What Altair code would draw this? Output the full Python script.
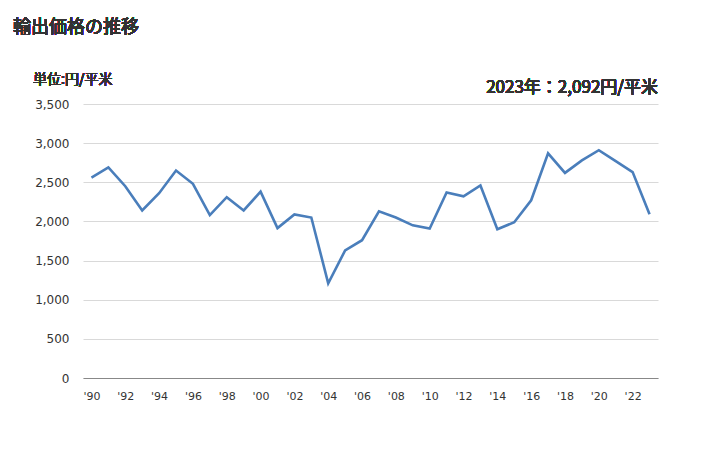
import altair as alt
import pandas as pd

years = list(range(1990, 2024))
values = [2560, 2690, 2450, 2140, 2360, 2650, 2480, 2080, 2310, 2140,
          2380, 1915, 2090, 2050, 1210, 1630, 1760, 2130, 2050, 1950,
          1910, 2370, 2320, 2460, 1900, 1990, 2270, 2870, 2620, 2780,
          2910, 2770, 2630, 2092]
y_ticks = [0, 500, 1000, 1500, 2000, 2500, 3000, 3500]
x_ticks = list(range(1990, 2023, 2))

df = pd.DataFrame({"year": years, "value": values})

W, H = 575, 274
JP = "Noto Sans CJK JP, Noto Sans, sans-serif"
NUM = "DejaVu Sans"

x = alt.X("year:Q", scale=alt.Scale(domain=[1989.5, 2023.5], nice=False, zero=False),
          axis=alt.Axis(values=x_ticks, labelExpr="\"'\" + slice(toString(datum.value), 2)",
                        grid=False, ticks=False, domainColor="#888888", labelFont=NUM,
                        labelFontSize=11, labelColor="#333333", labelPadding=12, title=None))
y = alt.Y("value:Q", scale=alt.Scale(domain=[0, 3500], nice=False),
          axis=alt.Axis(values=y_ticks, format=",d", grid=True, gridColor="#d9d9d9",
                        domain=False, ticks=False, labelFont=NUM, labelFontSize=12,
                        labelColor="#333333", labelPadding=14, title=None))

line = alt.Chart(df).mark_line(color="#4a7ebb", strokeWidth=2.6).encode(x=x, y=y)

title = alt.Chart(df).mark_text(text="輸出価格の推移", font=JP, fontSize=18, fontWeight="normal",
                                align="left", baseline="middle", color="#333333").encode(
    x=alt.value(-70), y=alt.value(-76))
unit = alt.Chart(df).mark_text(text="単位:円/平米", font=JP, fontSize=14, fontWeight="normal",
                               align="left", baseline="middle", color="#333333").encode(
    x=alt.value(-50), y=alt.value(-24))
note = alt.Chart(df).mark_text(text="2023年：2,092円/平米", font=JP, fontSize=17, fontWeight="normal",
                               align="right", baseline="middle", color="#333333").encode(
    x=alt.value(W), y=alt.value(-16))

chart = alt.layer(line, title, unit, note).properties(
    width=W, height=H,
    background="white",
    autosize=alt.AutoSizeParams(type="none"),
    padding={"left": 83, "top": 104, "right": 70, "bottom": 72},
).configure_view(stroke=None)

chart.save("out.html", embed_options={"renderer": "svg", "actions": False})
